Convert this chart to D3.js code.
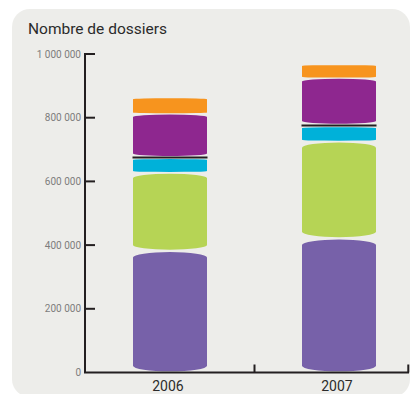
<!DOCTYPE html>
<html>
<head>
<meta charset="utf-8">
<script src="https://cdn.jsdelivr.net/npm/d3@7/dist/d3.min.js"></script>
<style>
  html, body { margin: 0; padding: 0; background: #ffffff; }
  svg { display: block; }
</style>
</head>
<body>
<svg id="chart" width="415" height="394"></svg>
<script>
// Years shown on the horizontal axis
const years = ["2006", "2007"];

// Stack layers, bottom to top
const seriesKeys = ["violet", "vert", "cyan", "noir", "prune", "orange"];
const seriesColors = ["#7761a9", "#b6d455", "#00b1d9", "#231f20", "#8e278f", "#f7941e"];

// Number of files per layer, one value per year
const violet = [382000, 421000];
const vert   = [246000, 305000];
const cyan   = [44000, 46000];
const noir   = [6000, 7000];
const prune  = [134000, 145000];
const orange = [49000, 41000];

// Vertical axis ticks
const yTicks = [0, 200000, 400000, 600000, 800000, 1000000];
const yTickLabels = ["0", "200 000", "400 000", "600 000", "800 000", "1 000 000"];

const table = years.map((yr, i) => ({
  year: yr,
  violet: violet[i], vert: vert[i], cyan: cyan[i],
  noir: noir[i], prune: prune[i], orange: orange[i]
}));

const svg = d3.select("#chart");

// Rounded grey panel
svg.append("rect")
  .attr("x", 12).attr("y", 9)
  .attr("width", 398).attr("height", 388)
  .attr("rx", 18).attr("ry", 18)
  .attr("fill", "#ededea");

svg.append("text")
  .attr("x", 28).attr("y", 34)
  .attr("font-family", "Roboto, sans-serif")
  .attr("font-size", 15.5)
  .attr("fill", "#2b2b2b")
  .text("Nombre de dossiers");

const y = d3.scaleLinear().domain([0, 1000000]).range([372.5, 54]);
const xCenter = d3.scalePoint().domain(years).range([170, 339]);
const barWidth = 74;

const stack = d3.stack().keys(seriesKeys);
const layers = stack(table);

// Barrel-shaped segment: flat sides, elliptical top and bottom caps
function segmentPath(x0, w, yTop, yBot, depth) {
  const x1 = x0 + w;
  const t = yTop + depth, b = yBot - depth;
  const rx = w / 2;
  return `M${x0},${t}` +
    `A${rx},${depth} 0 0 1 ${x1},${t}` +
    `L${x1},${b}` +
    `A${rx},${depth} 0 0 1 ${x0},${b}Z`;
}

layers.forEach((layer, li) => {
  const key = seriesKeys[li];
  svg.append("g").selectAll("path")
    .data(layer)
    .join("path")
    .attr("fill", seriesColors[li])
    .attr("d", d => {
      const x0 = xCenter(d.data.year) - barWidth / 2;
      const w = barWidth;
      if (key === "noir") {
        return `M${x0 - 0.5},${y(d[1])}H${x0 + w + 0.5}V${y(d[0])}H${x0 - 0.5}Z`;
      }
      const gap = key === "vert" || key === "violet" ? 1.2 : 0.6;
      const yTop = y(d[1]) + (li === seriesKeys.length - 1 ? 0 : gap);
      const yBot = y(d[0]) - gap;
      const h = yBot - yTop;
      const depth = Math.max(0.6, Math.min(5.5, h * 0.06));
      return segmentPath(x0, w, yTop, yBot, depth);
    });
});

// Vertical axis
const yAxis = svg.append("g");
yAxis.append("line")
  .attr("x1", 85).attr("x2", 85)
  .attr("y1", y(1000000) - 1).attr("y2", y(0))
  .attr("stroke", "#231f20").attr("stroke-width", 2);
yAxis.selectAll("line.tick")
  .data(yTicks.slice(1))
  .join("line")
  .attr("class", "tick")
  .attr("x1", 85).attr("x2", 95)
  .attr("y1", d => y(d)).attr("y2", d => y(d))
  .attr("stroke", "#231f20").attr("stroke-width", 2);
yAxis.selectAll("text")
  .data(yTicks)
  .join("text")
  .attr("x", 81)
  .attr("y", d => y(d) + 3.5)
  .attr("text-anchor", "end")
  .attr("font-family", "Roboto, sans-serif")
  .attr("font-size", 10)
  .attr("fill", "#7d7d7d")
  .text((d, i) => yTickLabels[i]);

// Horizontal axis with separators between years
const xAxis = svg.append("g");
xAxis.append("line")
  .attr("x1", 84).attr("x2", 409)
  .attr("y1", y(0)).attr("y2", y(0))
  .attr("stroke", "#231f20").attr("stroke-width", 2);
const step = xCenter.step();
const separators = [xCenter(years[0]) + step / 2, xCenter(years[1]) + step * 0.41];
xAxis.selectAll("line.tick")
  .data(separators)
  .join("line")
  .attr("class", "tick")
  .attr("x1", d => d).attr("x2", d => d)
  .attr("y1", y(0) - 8).attr("y2", y(0))
  .attr("stroke", "#231f20").attr("stroke-width", 2);
xAxis.selectAll("text")
  .data(years)
  .join("text")
  .attr("x", d => xCenter(d) - 2)
  .attr("y", 391)
  .attr("text-anchor", "middle")
  .attr("font-family", "Roboto, sans-serif")
  .attr("font-size", 14)
  .attr("fill", "#2b2b2b")
  .text(d => d);
</script>
</body>
</html>
